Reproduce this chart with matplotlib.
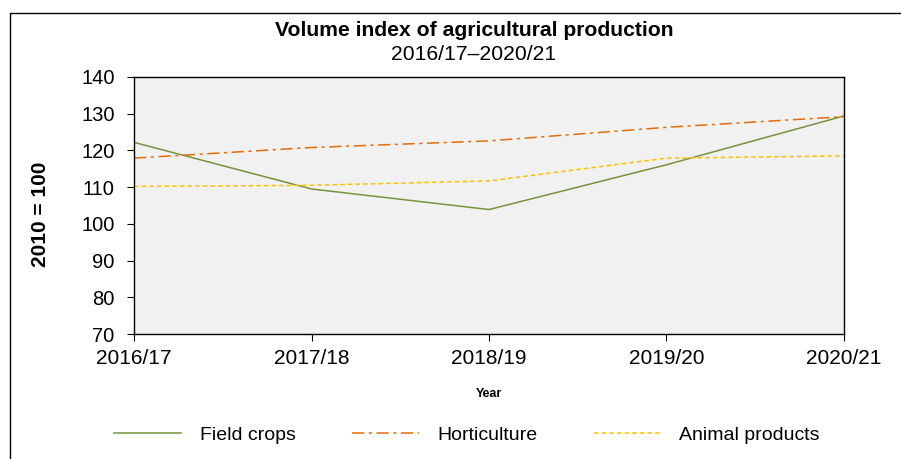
import matplotlib
matplotlib.use("Agg")
import matplotlib.pyplot as plt
from matplotlib.patches import Rectangle

plt.rcParams["font.family"] = ["Liberation Sans", "DejaVu Sans"]

# Volume index, 2010 = 100
years = ["2016/17", "2017/18", "2018/19", "2019/20", "2020/21"]
field_crops = [122.2, 109.5, 103.9, 116.1, 129.4]
horticulture = [117.9, 120.8, 122.6, 126.3, 129.2]
animal_products = [110.2, 110.5, 111.7, 117.9, 118.5]
y_ticks = [70, 80, 90, 100, 110, 120, 130, 140]

fig = plt.figure(figsize=(9.01, 4.59), dpi=100)
ax = fig.add_axes([134 / 901, 1 - 334 / 459, 710 / 901, 257 / 459])
ax.set_facecolor("#f1f1f1")

x = list(range(len(years)))
ax.plot(x, field_crops, color="#77933c", linewidth=1.1, label="Field crops")
ax.plot(x, horticulture, color="#e46c0a", linewidth=1.1,
        dashes=(8, 3, 2, 3), label="Horticulture")
ax.plot(x, animal_products, color="#ffc000", linewidth=1.1,
        dashes=(3, 2), label="Animal products")

ax.set_xlim(0, len(years) - 1)
ax.set_ylim(70, 140)
ax.set_xticks(x)
ax.set_xticklabels(years, fontsize=15)
ax.set_yticks(y_ticks)
ax.tick_params(axis="y", labelsize=14.5, length=5, width=0.8,
               direction="out", pad=9)
ax.tick_params(axis="x", length=5, width=0.8, direction="out", pad=6)
for s in ax.spines.values():
    s.set_linewidth(1.0)

ax.set_ylabel("2010 = 100", fontsize=15, fontweight="bold")
ax.yaxis.set_label_coords(-0.118, 0.465)
ax.set_xlabel("Year", fontsize=9, fontweight="bold", labelpad=14)

fig.text(474 / 901, 1 - 31 / 459, "Volume index of agricultural production",
         ha="center", va="center", fontsize=15.2, fontweight="bold")
fig.text(474 / 901, 1 - 55 / 459, "2016/17\u20132020/21",
         ha="center", va="center", fontsize=15.2)

ax.legend(loc="center", bbox_to_anchor=(467 / 901, 1 - 435 / 459),
          bbox_transform=fig.transFigure, ncol=3, frameon=False,
          fontsize=14, handlelength=3.45, columnspacing=2.9,
          handletextpad=0.95)

# outer frame around the whole chart
fig.patches.append(Rectangle((10 / 901, -0.05), 1.0, 1 - 13 / 459 + 0.05,
                             transform=fig.transFigure, fill=False,
                             edgecolor="black", linewidth=1.0))

fig.savefig("out.png", dpi=100)
